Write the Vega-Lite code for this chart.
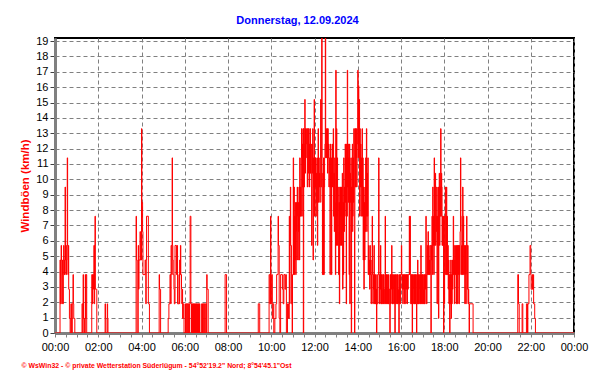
{
"$schema": "https://vega.github.io/schema/vega-lite/v6.json",
"width": 519,
"height": 295,
"autosize": "none",
"padding": {"left": 55, "top": 38, "right": 18, "bottom": 51},
"background": "#ffffff",
"view": {"stroke": "#000000", "strokeWidth": 2},
"title": {"text": "Donnerstag, 12.09.2024", "color": "#0000ff", "font": "Liberation Sans", "fontSize": 11, "fontWeight": "bold", "dx": -17, "offset": 9},
"data": {"values": [
{"m":0,"v":0},{"m":14,"v":4.75},{"m":15,"v":1.9},{"m":16,"v":4.75},{"m":17,"v":5.7},{"m":18,"v":4.75},{"m":19,"v":1.9},{"m":20,"v":4.75},{"m":21,"v":3.8},{"m":22,"v":1.9},{"m":23,"v":4.75},{"m":24,"v":5.7},{"m":25,"v":3.8},{"m":26,"v":4.75},{"m":27,"v":3.8},{"m":28,"v":9.5},{"m":29,"v":4.75},{"m":30,"v":5.7},{"m":31,"v":3.8},{"m":32,"v":4.75},{"m":33,"v":5.7},{"m":34,"v":11.4},{"m":35,"v":5.7},{"m":36,"v":3.8},{"m":37,"v":5.7},{"m":38,"v":2.85},{"m":40,"v":0.95},{"m":42,"v":0},{"m":44,"v":1.9},{"m":46,"v":0},{"m":48,"v":1.9},{"m":50,"v":3.8},{"m":51,"v":1.9},{"m":52,"v":0.95},{"m":55,"v":0},
{"m":75,"v":1.9},{"m":77,"v":0},{"m":78,"v":3.8},{"m":79,"v":0.95},{"m":82,"v":0},{"m":84,"v":3.8},{"m":85,"v":0.95},{"m":86,"v":3.8},{"m":88,"v":0},
{"m":102,"v":3.8},{"m":104,"v":1.9},{"m":105,"v":3.8},{"m":107,"v":2.85},{"m":108,"v":5.7},{"m":109,"v":1.9},{"m":110,"v":5.7},{"m":111,"v":7.6},{"m":112,"v":2.85},{"m":116,"v":0},
{"m":139,"v":1.9},{"m":140,"v":0.95},{"m":141,"v":0},{"m":145,"v":1.9},{"m":146,"v":0.95},{"m":147,"v":0},
{"m":225,"v":7.6},{"m":226,"v":4.75},{"m":228,"v":0},{"m":231,"v":5.7},{"m":232,"v":2.85},{"m":233,"v":4.75},{"m":236,"v":6.6},{"m":237,"v":4.75},{"m":240,"v":13.3},{"m":241,"v":8.5},{"m":243,"v":6.6},{"m":244,"v":3.8},{"m":250,"v":4.75},{"m":252,"v":1.9},{"m":253,"v":4.75},{"m":254,"v":7.6},{"m":259,"v":1.9},{"m":262,"v":0},
{"m":289,"v":3.8},{"m":290,"v":2.85},{"m":293,"v":0},
{"m":314,"v":0.95},{"m":316,"v":1.9},{"m":319,"v":3.8},{"m":321,"v":1.9},{"m":322,"v":5.7},{"m":324,"v":3.8},{"m":325,"v":11.4},{"m":326,"v":5.7},{"m":327,"v":4.75},{"m":328,"v":3.8},{"m":330,"v":2.85},{"m":331,"v":1.9},{"m":333,"v":5.7},{"m":337,"v":3.8},{"m":339,"v":5.7},{"m":340,"v":1.9},{"m":344,"v":3.8},{"m":345,"v":1.9},{"m":346,"v":4.75},{"m":347,"v":3.8},{"m":348,"v":5.7},{"m":349,"v":3.8},{"m":351,"v":2.85},{"m":352,"v":1.9},{"m":353,"v":2.85},{"m":354,"v":0.95},{"m":356,"v":1.9},{"m":358,"v":0},
{"m":362,"v":1.9},{"m":363,"v":0},{"m":364,"v":1.9},{"m":366,"v":0},{"m":367,"v":1.9},{"m":369,"v":0},{"m":370,"v":1.9},{"m":372,"v":0},{"m":373,"v":1.9},{"m":375,"v":7.6},{"m":377,"v":1.9},{"m":378,"v":0},{"m":379,"v":1.9},{"m":380,"v":0},{"m":381,"v":1.9},{"m":382,"v":0},{"m":383,"v":1.9},{"m":384,"v":0},{"m":385,"v":1.9},{"m":386,"v":0},{"m":387,"v":1.9},{"m":388,"v":0},{"m":389,"v":1.9},{"m":390,"v":0},{"m":391,"v":1.9},{"m":392,"v":0},{"m":393,"v":1.9},{"m":394,"v":0},{"m":395,"v":1.9},{"m":396,"v":0},{"m":397,"v":1.9},{"m":398,"v":0},{"m":399,"v":1.9},{"m":400,"v":0},{"m":401,"v":1.9},{"m":402,"v":0},
{"m":407,"v":1.9},{"m":408,"v":0},{"m":409,"v":1.9},{"m":410,"v":0},{"m":411,"v":1.9},{"m":413,"v":0},{"m":414,"v":1.9},{"m":416,"v":0},{"m":417,"v":1.9},{"m":420,"v":0},{"m":421,"v":3.8},{"m":422,"v":2.85},{"m":425,"v":0},
{"m":472,"v":3.8},{"m":476,"v":0},
{"m":564,"v":1.9},{"m":568,"v":0},
{"m":594,"v":3.8},{"m":596,"v":1.9},{"m":598,"v":7.6},{"m":599,"v":1.9},{"m":601,"v":3.8},{"m":603,"v":0.95},{"m":605,"v":1.9},{"m":607,"v":0},{"m":610,"v":0.95},{"m":613,"v":1.9},{"m":615,"v":3.8},{"m":619,"v":7.6},{"m":620,"v":5.7},{"m":622,"v":0.95},{"m":624,"v":0},{"m":626,"v":3.8},{"m":631,"v":2.85},{"m":633,"v":1.9},{"m":635,"v":3.8},{"m":638,"v":2.85},{"m":640,"v":3.8},{"m":642,"v":0},{"m":645,"v":1.9},{"m":648,"v":0.95},{"m":650,"v":7.6},{"m":651,"v":1.9},{"m":652,"v":5.7},{"m":653,"v":9.5},{"m":654,"v":5.7},{"m":656,"v":1.9},{"m":658,"v":0},{"m":659,"v":3.8},
{"m":661,"v":11.4},{"m":662,"v":3.8},{"m":663,"v":9.5},{"m":664,"v":3.8},{"m":665,"v":7.6},{"m":666,"v":4.75},{"m":667,"v":8.5},{"m":668,"v":3.8},{"m":669,"v":6.6},{"m":670,"v":8.5},{"m":671,"v":4.75},{"m":672,"v":9.5},{"m":673,"v":7.6},{"m":674,"v":4.75},{"m":675,"v":8.5},{"m":676,"v":6.6},{"m":677,"v":9.5},{"m":678,"v":4.75},{"m":679,"v":11.4},{"m":680,"v":7.6},{"m":681,"v":9.5},{"m":682,"v":7.6},{"m":683,"v":11.4},{"m":684,"v":13.3},{"m":685,"v":7.6},{"m":686,"v":12.3},{"m":687,"v":9.5},{"m":688,"v":13.3},{"m":689,"v":0},{"m":690,"v":13.3},
{"m":691,"v":9.5},{"m":692,"v":12.3},{"m":693,"v":15.2},{"m":694,"v":10.4},{"m":695,"v":13.3},{"m":696,"v":11.4},{"m":697,"v":12.3},{"m":698,"v":13.3},{"m":700,"v":9.5},{"m":701,"v":13.3},{"m":703,"v":10.4},{"m":704,"v":13.3},{"m":705,"v":9.5},{"m":706,"v":12.3},{"m":707,"v":10.4},{"m":708,"v":13.3},{"m":709,"v":10.4},{"m":710,"v":12.3},{"m":711,"v":9.5},{"m":712,"v":5.7},{"m":713,"v":12.3},{"m":714,"v":10.4},{"m":715,"v":13.3},{"m":716,"v":4.75},{"m":717,"v":11.4},{"m":718,"v":9.5},{"m":719,"v":15.2},{"m":720,"v":7.6},
{"m":721,"v":11.4},{"m":722,"v":9.5},{"m":723,"v":11.4},{"m":724,"v":7.6},{"m":725,"v":10.4},{"m":726,"v":8.5},{"m":727,"v":11.4},{"m":728,"v":5.7},{"m":729,"v":10.4},{"m":730,"v":13.3},{"m":731,"v":8.5},{"m":732,"v":11.4},{"m":733,"v":9.5},{"m":734,"v":10.4},{"m":735,"v":8.5},{"m":736,"v":11.4},{"m":737,"v":15.2},{"m":738,"v":9.5},{"m":739,"v":11.4},{"m":740,"v":19.9},{"m":741,"v":8.5},{"m":742,"v":3.8},{"m":743,"v":10.4},{"m":744,"v":3.8},{"m":745,"v":11.4},{"m":746,"v":3.8},{"m":747,"v":9.5},{"m":748,"v":11.4},{"m":749,"v":12.3},{"m":750,"v":19.9},
{"m":751,"v":11.4},{"m":752,"v":13.3},{"m":753,"v":11.4},{"m":754,"v":12.3},{"m":755,"v":13.3},{"m":756,"v":10.4},{"m":757,"v":13.3},{"m":758,"v":11.4},{"m":759,"v":12.3},{"m":760,"v":9.5},{"m":761,"v":11.4},{"m":762,"v":10.4},{"m":763,"v":3.8},{"m":764,"v":12.3},{"m":765,"v":9.5},{"m":766,"v":11.4},{"m":767,"v":3.8},{"m":768,"v":10.4},{"m":769,"v":12.3},{"m":770,"v":9.5},{"m":771,"v":11.4},{"m":772,"v":13.3},{"m":773,"v":7.6},{"m":774,"v":10.4},{"m":775,"v":6.6},{"m":776,"v":11.4},{"m":777,"v":8.5},{"m":778,"v":3.8},{"m":779,"v":17.1},{"m":780,"v":5.7},
{"m":781,"v":13.3},{"m":782,"v":7.6},{"m":783,"v":11.4},{"m":784,"v":5.7},{"m":785,"v":9.5},{"m":786,"v":6.6},{"m":787,"v":3.8},{"m":788,"v":8.5},{"m":789,"v":1.9},{"m":790,"v":9.5},{"m":791,"v":5.7},{"m":792,"v":9.5},{"m":793,"v":7.6},{"m":794,"v":9.5},{"m":795,"v":5.7},{"m":796,"v":6.6},{"m":797,"v":10.4},{"m":798,"v":2.85},{"m":799,"v":8.5},{"m":800,"v":3.8},{"m":801,"v":11.4},{"m":802,"v":6.6},{"m":803,"v":9.5},{"m":804,"v":7.6},{"m":805,"v":12.3},{"m":806,"v":8.5},{"m":807,"v":11.4},{"m":808,"v":1.9},{"m":809,"v":12.3},{"m":810,"v":7.6},
{"m":811,"v":17.1},{"m":812,"v":9.5},{"m":813,"v":12.3},{"m":814,"v":8.5},{"m":815,"v":11.4},{"m":816,"v":3.8},{"m":817,"v":12.3},{"m":818,"v":1.9},{"m":819,"v":10.4},{"m":820,"v":8.5},{"m":821,"v":11.4},{"m":822,"v":0},{"m":823,"v":9.5},{"m":824,"v":6.6},{"m":825,"v":12.3},{"m":826,"v":7.6},{"m":827,"v":11.4},{"m":828,"v":8.5},{"m":829,"v":13.3},{"m":830,"v":6.6},{"m":831,"v":0},{"m":832,"v":13.3},{"m":833,"v":9.5},{"m":834,"v":13.3},{"m":835,"v":11.4},{"m":836,"v":13.3},{"m":837,"v":9.5},{"m":838,"v":12.3},{"m":839,"v":13.3},{"m":840,"v":17.1},
{"m":841,"v":11.4},{"m":842,"v":16.1},{"m":843,"v":12.3},{"m":844,"v":15.2},{"m":845,"v":7.6},{"m":846,"v":13.3},{"m":847,"v":9.5},{"m":848,"v":12.3},{"m":849,"v":7.6},{"m":850,"v":11.4},{"m":851,"v":9.5},{"m":852,"v":13.3},{"m":853,"v":7.6},{"m":854,"v":11.4},{"m":855,"v":4.75},{"m":856,"v":9.5},{"m":857,"v":2.85},{"m":858,"v":8.5},{"m":859,"v":4.75},{"m":860,"v":9.5},{"m":861,"v":6.6},{"m":862,"v":11.4},{"m":863,"v":7.6},{"m":864,"v":13.3},{"m":865,"v":6.6},{"m":866,"v":10.4},{"m":867,"v":7.6},{"m":868,"v":11.4},{"m":869,"v":3.8},{"m":870,"v":5.7},
{"m":871,"v":3.8},{"m":872,"v":4.75},{"m":873,"v":2.85},{"m":874,"v":5.7},{"m":875,"v":3.8},{"m":876,"v":4.75},{"m":877,"v":1.9},{"m":878,"v":3.8},{"m":880,"v":7.6},{"m":881,"v":3.8},{"m":882,"v":1.9},{"m":883,"v":3.8},{"m":884,"v":2.85},{"m":885,"v":5.7},{"m":886,"v":1.9},{"m":887,"v":3.8},{"m":888,"v":1.9},{"m":889,"v":3.8},{"m":890,"v":1.9},{"m":891,"v":2.85},{"m":892,"v":0},{"m":893,"v":3.8},{"m":894,"v":1.9},{"m":896,"v":3.8},{"m":898,"v":11.4},{"m":899,"v":3.8},{"m":900,"v":1.9},
{"m":901,"v":3.8},{"m":902,"v":2.85},{"m":903,"v":5.7},{"m":904,"v":1.9},{"m":905,"v":3.8},{"m":906,"v":1.9},{"m":907,"v":3.8},{"m":908,"v":2.85},{"m":909,"v":1.9},{"m":910,"v":3.8},{"m":911,"v":1.9},{"m":912,"v":3.8},{"m":913,"v":1.9},{"m":914,"v":2.85},{"m":916,"v":7.6},{"m":917,"v":1.9},{"m":918,"v":3.8},{"m":919,"v":1.9},{"m":920,"v":3.8},{"m":921,"v":2.85},{"m":922,"v":1.9},{"m":923,"v":3.8},{"m":924,"v":1.9},{"m":925,"v":3.8},{"m":926,"v":1.9},{"m":927,"v":2.85},{"m":929,"v":0},{"m":930,"v":3.8},
{"m":931,"v":1.9},{"m":932,"v":3.8},{"m":933,"v":2.85},{"m":934,"v":5.7},{"m":935,"v":1.9},{"m":936,"v":3.8},{"m":937,"v":1.9},{"m":938,"v":3.8},{"m":939,"v":2.85},{"m":940,"v":1.9},{"m":941,"v":3.8},{"m":942,"v":1.9},{"m":943,"v":0},{"m":944,"v":3.8},{"m":945,"v":1.9},{"m":946,"v":3.8},{"m":947,"v":2.85},{"m":948,"v":1.9},{"m":949,"v":3.8},{"m":950,"v":1.9},{"m":951,"v":3.8},{"m":952,"v":2.85},{"m":953,"v":1.9},{"m":954,"v":0},{"m":955,"v":3.8},{"m":956,"v":1.9},{"m":957,"v":3.8},{"m":958,"v":1.9},{"m":959,"v":3.8},
{"m":961,"v":5.7},{"m":962,"v":3.8},{"m":963,"v":2.85},{"m":964,"v":3.8},{"m":965,"v":1.9},{"m":966,"v":3.8},{"m":967,"v":2.85},{"m":968,"v":3.8},{"m":969,"v":1.9},{"m":970,"v":3.8},{"m":971,"v":2.85},{"m":972,"v":3.8},{"m":973,"v":1.9},{"m":974,"v":3.8},{"m":975,"v":2.85},{"m":976,"v":3.8},{"m":977,"v":1.9},{"m":978,"v":3.8},{"m":979,"v":2.85},{"m":980,"v":3.8},{"m":983,"v":7.6},{"m":984,"v":3.8},{"m":985,"v":7.6},{"m":986,"v":3.8},{"m":987,"v":1.9},{"m":988,"v":3.8},{"m":989,"v":1.9},{"m":990,"v":3.8},
{"m":991,"v":0},{"m":992,"v":3.8},{"m":993,"v":1.9},{"m":994,"v":2.85},{"m":995,"v":3.8},{"m":996,"v":1.9},{"m":997,"v":3.8},{"m":998,"v":1.9},{"m":999,"v":3.8},{"m":1000,"v":1.9},{"m":1001,"v":3.8},{"m":1002,"v":1.9},{"m":1003,"v":0},{"m":1004,"v":3.8},{"m":1005,"v":1.9},{"m":1006,"v":4.75},{"m":1007,"v":1.9},{"m":1008,"v":3.8},{"m":1009,"v":1.9},{"m":1010,"v":3.8},{"m":1011,"v":2.85},{"m":1012,"v":1.9},{"m":1013,"v":3.8},{"m":1014,"v":1.9},{"m":1015,"v":5.7},{"m":1016,"v":3.8},{"m":1017,"v":1.9},{"m":1018,"v":3.8},{"m":1019,"v":1.9},{"m":1020,"v":3.8},
{"m":1021,"v":2.85},{"m":1022,"v":1.9},{"m":1023,"v":3.8},{"m":1024,"v":1.9},{"m":1025,"v":3.8},{"m":1026,"v":1.9},{"m":1027,"v":3.8},{"m":1028,"v":2.85},{"m":1029,"v":7.6},{"m":1030,"v":3.8},{"m":1031,"v":1.9},{"m":1032,"v":3.8},{"m":1033,"v":5.7},{"m":1034,"v":3.8},{"m":1035,"v":6.6},{"m":1036,"v":3.8},{"m":1037,"v":5.7},{"m":1038,"v":3.8},{"m":1039,"v":4.75},{"m":1040,"v":3.8},{"m":1041,"v":5.7},{"m":1043,"v":0},{"m":1044,"v":5.7},{"m":1045,"v":4.75},{"m":1046,"v":7.6},{"m":1047,"v":3.8},{"m":1048,"v":9.5},{"m":1049,"v":5.7},{"m":1050,"v":7.6},
{"m":1051,"v":3.8},{"m":1052,"v":11.4},{"m":1053,"v":5.7},{"m":1054,"v":7.6},{"m":1055,"v":10.4},{"m":1056,"v":5.7},{"m":1057,"v":7.6},{"m":1058,"v":6.6},{"m":1059,"v":9.5},{"m":1060,"v":1.9},{"m":1061,"v":7.6},{"m":1062,"v":5.7},{"m":1063,"v":9.5},{"m":1064,"v":0.95},{"m":1065,"v":7.6},{"m":1066,"v":10.4},{"m":1067,"v":5.7},{"m":1068,"v":9.5},{"m":1069,"v":7.6},{"m":1070,"v":13.3},{"m":1071,"v":7.6},{"m":1072,"v":10.4},{"m":1073,"v":9.5},{"m":1074,"v":5.7},{"m":1075,"v":7.6},{"m":1076,"v":5.7},{"m":1077,"v":7.6},{"m":1078,"v":0},{"m":1079,"v":3.8},{"m":1080,"v":1.9},
{"m":1081,"v":7.6},{"m":1082,"v":3.8},{"m":1083,"v":9.5},{"m":1084,"v":7.6},{"m":1085,"v":3.8},{"m":1086,"v":9.5},{"m":1087,"v":3.8},{"m":1088,"v":7.6},{"m":1089,"v":3.8},{"m":1090,"v":5.7},{"m":1091,"v":2.85},{"m":1092,"v":4.75},{"m":1093,"v":1.9},{"m":1094,"v":3.8},{"m":1095,"v":0},{"m":1096,"v":3.8},{"m":1097,"v":1.9},{"m":1098,"v":4.75},{"m":1099,"v":0.95},{"m":1100,"v":3.8},{"m":1101,"v":1.9},{"m":1102,"v":4.75},{"m":1103,"v":2.85},{"m":1104,"v":3.8},{"m":1105,"v":7.6},{"m":1106,"v":3.8},{"m":1107,"v":5.7},{"m":1108,"v":1.9},{"m":1109,"v":4.75},{"m":1110,"v":3.8},
{"m":1111,"v":5.7},{"m":1112,"v":3.8},{"m":1113,"v":1.9},{"m":1114,"v":5.7},{"m":1115,"v":3.8},{"m":1116,"v":5.7},{"m":1117,"v":1.9},{"m":1118,"v":5.7},{"m":1119,"v":3.8},{"m":1120,"v":5.7},{"m":1121,"v":1.9},{"m":1122,"v":5.7},{"m":1123,"v":3.8},{"m":1124,"v":6.6},{"m":1125,"v":11.4},{"m":1126,"v":7.6},{"m":1127,"v":5.7},{"m":1128,"v":3.8},{"m":1129,"v":5.7},{"m":1130,"v":3.8},{"m":1131,"v":9.5},{"m":1132,"v":3.8},{"m":1133,"v":7.6},{"m":1134,"v":5.7},{"m":1135,"v":3.8},{"m":1136,"v":5.7},{"m":1137,"v":1.9},{"m":1138,"v":3.8},{"m":1139,"v":5.7},{"m":1140,"v":1.9},
{"m":1141,"v":3.8},{"m":1142,"v":7.6},{"m":1143,"v":5.7},{"m":1144,"v":2.85},{"m":1145,"v":5.7},{"m":1146,"v":1.9},{"m":1147,"v":2.85},{"m":1148,"v":1.9},{"m":1149,"v":0},{"m":1150,"v":1.9},{"m":1160,"v":0},
{"m":1284,"v":3.8},{"m":1286,"v":1.9},{"m":1288,"v":0},{"m":1296,"v":1.9},{"m":1298,"v":0},{"m":1308,"v":1.9},{"m":1311,"v":0},{"m":1312,"v":1.9},{"m":1315,"v":3.8},{"m":1318,"v":5.7},{"m":1320,"v":3.8},{"m":1321,"v":2.85},{"m":1324,"v":3.8},{"m":1325,"v":2.85},{"m":1327,"v":3.8},{"m":1328,"v":1.9},{"m":1331,"v":0.95},{"m":1333,"v":0},
{"m":1440,"v":0}
]},
"mark": {"type": "line", "interpolate": "step-after", "color": "#ff0000", "strokeWidth": 1, "clip": true},
"encoding": {
"x": {"field": "m", "type": "quantitative",
 "scale": {"domain": [0, 1440], "nice": false, "zero": false},
 "axis": {
  "values": [0,30,60,90,120,150,180,210,240,270,300,330,360,390,420,450,480,510,540,570,600,630,660,690,720,750,780,810,840,870,900,930,960,990,1020,1050,1080,1110,1140,1170,1200,1230,1260,1290,1320,1350,1380,1410,1440],
  "labelExpr": "datum.value % 120 == 0 ? ((datum.value % 1440) / 60 < 10 ? '0' : '') + ((datum.value % 1440) / 60) + ':00' : ''",
  "labelOverlap": false, "labelFlush": false,
  "labelFont": "Liberation Sans", "labelFontSize": 11, "labelColor": "#000000", "labelPadding": 4,
  "grid": true, "gridDash": [4, 3], "gridColor": "#808080", "gridWidth": 1,
  "gridOpacity": {"condition": {"test": "datum.value % 120 == 0", "value": 1}, "value": 0},
  "ticks": true, "tickSize": 4, "tickColor": "#808080", "tickWidth": 1,
  "domain": true, "domainColor": "#808080", "domainWidth": 3,
  "title": "© WsWin32 - © private Wetterstation Süderlügum - 54°52'19.2\" Nord; 8°54'45.1\"Ost",
  "titleColor": "#ff0000", "titleFont": "Liberation Sans", "titleFontSize": 6.9, "titleFontWeight": "bold",
  "titleAnchor": "start", "titleAlign": "left", "titleBaseline": "middle", "titleX": -34, "titleY": 32
 }},
"y": {"field": "v", "type": "quantitative",
 "scale": {"domain": [0, 19.2], "nice": false, "zero": true},
 "axis": {
  "values": [0,1,2,3,4,5,6,7,8,9,10,11,12,13,14,15,16,17,18,19],
  "labelFont": "Liberation Sans", "labelFontSize": 11, "labelColor": "#000000", "labelPadding": 2, "labelFlush": false, "labelOverlap": false,
  "grid": true, "gridDash": [4, 3], "gridColor": "#808080", "gridWidth": 1,
  "ticks": true, "tickSize": 5, "tickColor": "#404040", "tickWidth": 1,
  "domain": true, "domainColor": "#808080", "domainWidth": 3,
  "title": "Windböen (km/h)", "titleColor": "#ff0000", "titleFont": "Liberation Sans", "titleFontSize": 11.5, "titleFontWeight": "bold",
  "titleAngle": -90, "titleX": -30, "titleY": 147.5, "titleAlign": "center", "titleBaseline": "middle"
 }}
}
}
